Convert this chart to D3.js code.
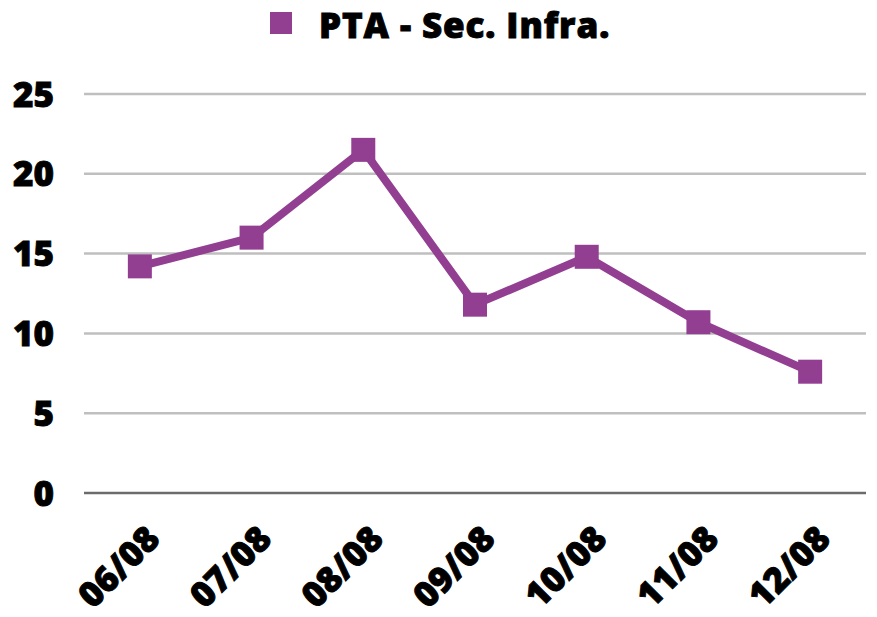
<!DOCTYPE html>
<html>
<head>
    <meta charset="utf-8">
    <script src="https://d3js.org/d3.v7.min.js"></script>
    <style>
        body { margin: 0; background: #fff; }
        svg text { font-family: "Open Sans", sans-serif; font-weight: 800; fill: #000; stroke: #000; stroke-width: 0.9px; }
    </style>
</head>
<body>
    <svg id="chart" width="877" height="617"></svg>
    <script>
        var dates = ["06/08", "07/08", "08/08", "09/08", "10/08", "11/08", "12/08"];
        var values = [14.2, 16.0, 21.5, 11.8, 14.8, 10.7, 7.6];
        var yTicks = [0, 5, 10, 15, 20, 25];
        var seriesName = "PTA - Sec. Infra.";
        var color = "#923f92";

        var svg = d3.select("#chart");
        var margin = {top: 94, right: 11, bottom: 124, left: 84};
        var width = 877 - margin.left - margin.right,
            height = 617 - margin.top - margin.bottom;

        var x = d3.scalePoint().domain(dates).range([0, width]).padding(0.5);
        var y = d3.scaleLinear().domain([0, 25]).range([height, 0]);

        var g = svg.append("g").attr("transform", "translate(" + margin.left + "," + margin.top + ")");

        // gridlines
        g.selectAll(".grid")
            .data(yTicks.filter(function(d) { return d > 0; }))
            .enter().append("line")
            .attr("x1", 0).attr("x2", width)
            .attr("y1", function(d) { return y(d); })
            .attr("y2", function(d) { return y(d); })
            .attr("stroke", "#bfbfbf")
            .attr("stroke-width", 2.5);

        g.append("line")
            .attr("x1", 0).attr("x2", width)
            .attr("y1", y(0)).attr("y2", y(0))
            .attr("stroke", "#6b6b6b")
            .attr("stroke-width", 2.5);

        // y labels
        g.selectAll(".ylab")
            .data(yTicks)
            .enter().append("text")
            .attr("x", -30)
            .attr("y", function(d) { return y(d); })
            .attr("dy", "0.36em")
            .attr("text-anchor", "end")
            .style("font-size", "35px")
            .text(function(d) { return d; });

        // x labels
        g.selectAll(".xlab")
            .data(dates)
            .enter().append("text")
            .attr("text-anchor", "end")
            .attr("transform", function(d) { return "translate(" + (x(d) + 22) + "," + (height + 48) + ") rotate(-45)"; })
            .style("font-size", "35px")
            .text(function(d) { return d; });

        // line
        var line = d3.line()
            .x(function(d, i) { return x(dates[i]); })
            .y(function(d) { return y(d); });

        g.append("path")
            .datum(values)
            .attr("d", line)
            .attr("fill", "none")
            .attr("stroke", color)
            .attr("stroke-width", 8)
            .attr("stroke-linejoin", "round");

        var ms = 24;
        g.selectAll(".marker")
            .data(values)
            .enter().append("rect")
            .attr("x", function(d, i) { return x(dates[i]) - ms / 2; })
            .attr("y", function(d) { return y(d) - ms / 2; })
            .attr("width", ms).attr("height", ms)
            .attr("fill", color);

        // legend
        svg.append("rect")
            .attr("x", 270).attr("y", 12)
            .attr("width", 22).attr("height", 22)
            .attr("fill", color);
        svg.append("text")
            .attr("x", 319).attr("y", 38)
            .style("font-size", "35px")
            .style("letter-spacing", "0.9px")
            .text(seriesName);
    </script>
</body>
</html>
